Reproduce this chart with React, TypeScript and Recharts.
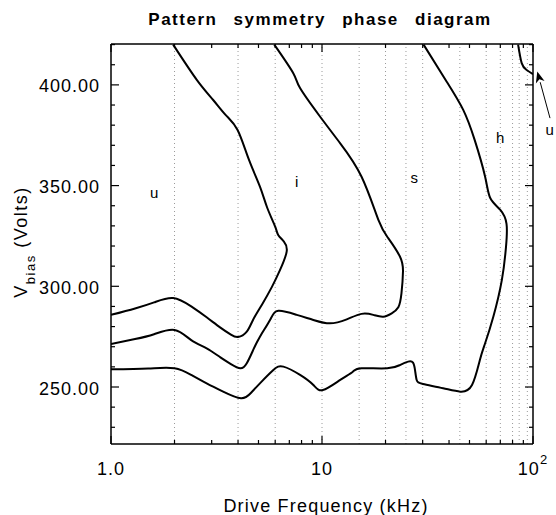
import React from "react";
import { Line, LineChart, ReferenceDot, ReferenceLine, XAxis, YAxis } from "recharts";

const FONT = '"Liberation Sans", Arial, Helvetica, sans-serif';

// phase boundaries: drive frequency (kHz) vs bias voltage (V)
const uiFreq = [1.0, 1.3, 1.6, 1.97, 2.4, 2.84, 3.3, 3.7, 4.0, 4.4, 4.71, 5.2, 5.79, 6.32, 6.8, 6.6, 6.2, 6.0, 5.5, 5.08, 4.5, 3.98, 3.5, 3.05, 2.55, 1.97];
const uiVolt = [285.8, 289, 292, 294.2, 290, 284.6, 279.5, 276, 274.8, 277.5, 283.3, 291, 299.7, 308, 317.2, 322.2, 325.5, 329.6, 339, 349.5, 363, 377.6, 385, 392.5, 402.5, 420];

const isFreq = [1.0, 1.3, 1.6, 2.0, 2.4, 2.84, 3.3, 3.7, 4.1, 4.4, 4.72, 5.08, 5.67, 6.21, 7.59, 9.1, 10.9, 13.1, 15.4, 17.5, 19.5, 21.4, 23.0, 23.8, 24.2, 23.4, 20.6, 18.5, 15.4, 12.2, 9.78, 7.87, 7.31, 5.94];
const isVolt = [271.4, 273.8, 276.2, 278.3, 273.3, 269.2, 264.7, 261.4, 259.3, 261.8, 268.4, 275.0, 283.3, 287.8, 285.8, 283.3, 281.6, 283.6, 286.3, 285.8, 284.9, 286.6, 289.6, 296.5, 307.3, 314.8, 323.9, 333, 354.4, 371, 384.3, 398.4, 405.8, 420];

const shFreq = [1.0, 1.5, 2.0, 2.4, 2.84, 3.4, 4.13, 4.6, 5.08, 5.88, 6.56, 7.87, 9.1, 10.1, 12.2, 14.0, 15.4, 20.4, 23.4, 25.6, 27.0, 27.6, 28.1, 30.1, 37.5, 45.2, 51.4, 56.0, 59.3, 64.9, 71.2, 74.5, 74.9, 70.0, 62.8, 59.3, 52.9, 46.7, 39.0, 30.3];
const shVolt = [258.8, 259.2, 259.3, 256, 251.8, 247.7, 244.4, 247, 251.8, 258.4, 260.1, 256, 251, 248.5, 253.5, 257.6, 259.3, 259.3, 260.9, 262.6, 262.1, 258.4, 253.5, 251.5, 249.4, 247.7, 251.0, 263.4, 271.7, 285.0, 303.2, 319.7, 331, 337.9, 343.7, 354.4, 372.7, 387.6, 401.6, 420];

const huFreq = [85, 88.4, 93.0, 100];
const huVolt = [420, 410.8, 407.5, 405.3];

const gridFreqs = [2, 4, 6, 10, 15, 20, 25, 30, 45, 60, 70, 80, 86, 94];
const xTicks = [1, 2, 3, 4, 5, 6, 7, 8, 9, 10, 20, 30, 40, 50, 60, 70, 80, 90, 100];
const xMajor = [1, 10, 100];
const yTicks = [230, 240, 250, 260, 270, 280, 290, 300, 310, 320, 330, 340, 350, 360, 370, 380, 390, 400, 410, 420];
const yMajor = [250, 300, 350, 400];

const regionNames = ["u", "i", "s", "h", "u"];
const regionFreq = [1.6, 7.59, 27.4, 69.8, 120];
const regionVolt = [343.7, 349.5, 351.2, 371.3, 375.2];

// arrow pointing at the small u region
const arrowFrom = { x: 120.4, y: 383.5 };
const arrowTo = { x: 104.8, y: 406.6 };

const toRows = (f: number[], v: number[]) => f.map((x, i) => ({ f: x, v: v[i] }));
const curves = [toRows(uiFreq, uiVolt), toRows(isFreq, isVolt), toRows(shFreq, shVolt), toRows(huFreq, huVolt)];

const BottomTick = ({ x, y, payload }: any) => {
  const val = payload.value;
  const major = xMajor.includes(val);
  return (
    <g>
      <line x1={x} x2={x} y1={y} y2={y - (major ? 8 : 4)} stroke="#000" strokeWidth={1.2} />
      {major && (
        <text x={x} y={y + 31} textAnchor="middle" fontSize={18} letterSpacing={1} fontFamily={FONT} fill="#000">
          {val === 100 ? (
            <>
              <tspan>10</tspan>
              <tspan dy={-11} fontSize={13}>2</tspan>
            </>
          ) : val === 1 ? "1.0" : String(val)}
        </text>
      )}
    </g>
  );
};

const TopTick = ({ x, y, payload }: any) => {
  const major = xMajor.includes(payload.value);
  return <line x1={x} x2={x} y1={y} y2={y + (major ? 8 : 4)} stroke="#000" strokeWidth={1.2} />;
};

const LeftTick = ({ x, y, payload }: any) => {
  const major = yMajor.includes(payload.value);
  return (
    <g>
      <line x1={x} x2={x + (major ? 8 : 4)} y1={y} y2={y} stroke="#000" strokeWidth={1.2} />
      {major && (
        <text x={x - 11} y={y + 7.5} textAnchor="end" fontSize={18} letterSpacing={1} fontFamily={FONT} fill="#000">
          {payload.value.toFixed(2)}
        </text>
      )}
    </g>
  );
};

const RightTick = ({ x, y, payload }: any) => {
  const major = yMajor.includes(payload.value);
  return <line x1={x} x2={x - (major ? 8 : 4)} y1={y} y2={y} stroke="#000" strokeWidth={1.2} />;
};

const Arrow = (props: any) => {
  const { x1, y1, x2, y2 } = props;
  const dx = x2 - x1;
  const dy = y2 - y1;
  const len = Math.hypot(dx, dy) || 1;
  const ux = dx / len;
  const uy = dy / len;
  const hl = 11;
  const hw = 4.5;
  const bx = x2 - ux * hl;
  const by = y2 - uy * hl;
  return (
    <g>
      <line x1={x1} y1={y1} x2={bx} y2={by} stroke="#000" strokeWidth={1} />
      <polygon
        points={`${x2},${y2} ${bx - uy * hw},${by + ux * hw} ${bx + ux * 3},${by + uy * 3} ${bx + uy * hw},${by - ux * hw}`}
        fill="#000"
      />
    </g>
  );
};

const RegionLabel = (name: string) => (props: any) => (
  <text x={props.cx} y={props.cy} textAnchor="middle" fontSize={15} fontFamily={FONT} fill="#000">
    {name}
  </text>
);

export default function App() {
  const domainY: [number, number] = [221.7, 420.3];
  return (
    <div style={{ position: "absolute", left: 0, top: 0, width: 556, height: 515, background: "#fff" }}>
      <LineChart width={556} height={515} margin={{ top: 43, right: 22, bottom: 0, left: 0 }}>
        <XAxis
          xAxisId={0}
          dataKey="f"
          type="number"
          scale="log"
          domain={[1, 100]}
          allowDataOverflow
          ticks={xTicks}
          interval={0}
          height={71}
          tickSize={0}
          tickMargin={0}
          tickLine={false}
          tick={<BottomTick />}
          axisLine={{ stroke: "#000", strokeWidth: 1.5 }}
        />
        <XAxis
          xAxisId="top"
          orientation="top"
          dataKey="f"
          type="number"
          scale="log"
          domain={[1, 100]}
          allowDataOverflow
          ticks={xTicks}
          interval={0}
          height={1}
          tickSize={0}
          tickMargin={0}
          tickLine={false}
          tick={<TopTick />}
          axisLine={{ stroke: "#000", strokeWidth: 1.5 }}
        />
        <YAxis
          yAxisId={0}
          type="number"
          domain={domainY}
          allowDataOverflow
          ticks={yTicks}
          interval={0}
          width={111}
          tickSize={0}
          tickMargin={0}
          tickLine={false}
          tick={<LeftTick />}
          axisLine={{ stroke: "#000", strokeWidth: 1.5 }}
        />
        <YAxis
          yAxisId="right"
          orientation="right"
          type="number"
          domain={domainY}
          allowDataOverflow
          ticks={yTicks}
          interval={0}
          width={1}
          tickSize={0}
          tickMargin={0}
          tickLine={false}
          tick={<RightTick />}
          axisLine={{ stroke: "#000", strokeWidth: 1.5 }}
        />
        {gridFreqs.map((g) => (
          <ReferenceLine key={g} x={g} stroke="#9a9a9a" strokeWidth={1} strokeDasharray="1 3" />
        ))}
        {curves.map((d, i) => (
          <Line
            key={i}
            data={d}
            dataKey="v"
            type="natural"
            stroke="#000"
            strokeWidth={2}
            dot={false}
            isAnimationActive={false}
          />
        ))}
        {/* invisible copy that binds the mirrored top/right axes */}
        <Line
          xAxisId="top"
          yAxisId="right"
          data={curves[3]}
          dataKey="v"
          stroke="none"
          dot={false}
          activeDot={false}
          isAnimationActive={false}
        />
        {regionNames.map((n, i) => (
          <ReferenceDot
            key={i}
            x={regionFreq[i]}
            y={regionVolt[i]}
            r={0}
            ifOverflow="visible"
            shape={RegionLabel(n)}
          />
        ))}
        <ReferenceLine segment={[arrowFrom, arrowTo]} ifOverflow="visible" shape={<Arrow />} />
      </LineChart>
      <svg width={556} height={515} style={{ position: "absolute", left: 0, top: 0, pointerEvents: "none" }}>
        <text x={320} y={25} textAnchor="middle" fontSize={17} fontWeight="bold" letterSpacing={1.5} wordSpacing={10} fontFamily={FONT} fill="#000">
          Pattern symmetry phase diagram
        </text>
        <text x={326} y={512} textAnchor="middle" fontSize={18} letterSpacing={1.2} fontFamily={FONT} fill="#000">
          Drive Frequency (kHz)
        </text>
        <text transform="translate(26.5, 242) rotate(-90)" textAnchor="middle" fontSize={18} letterSpacing={1.5} fontFamily={FONT} fill="#000">
          <tspan>V</tspan>
          <tspan fontSize={13} dy={8.5}>bias</tspan>
          <tspan dy={-8.5}>{"\u00a0(Volts)"}</tspan>
        </text>
      </svg>
    </div>
  );
}
